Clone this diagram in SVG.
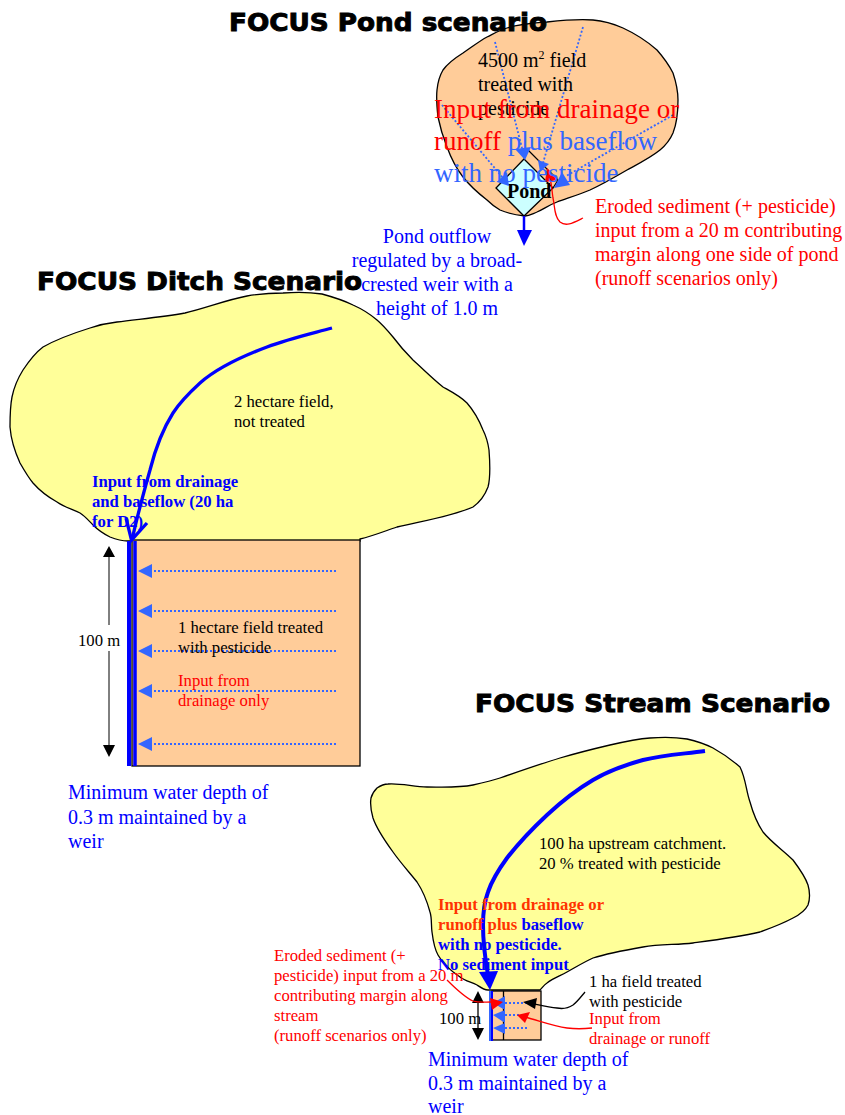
<svg xmlns="http://www.w3.org/2000/svg" width="845" height="1115" viewBox="0 0 845 1115">
<style>
text{font-family:"Liberation Serif","Times New Roman",serif}
.t{font-family:"DejaVu Sans",Arial,sans-serif;font-weight:bold;font-size:24px;fill:#000;stroke:#000;stroke-width:.9}
.o{stroke:#000;stroke-width:1.3}
.d{fill:none;stroke:#3366ff;stroke-width:1.8;stroke-dasharray:2 2}
.b{fill:none;stroke:#0000ff}
.r{fill:none;stroke:#ff0000;stroke-width:1.3}
.k{fill:none;stroke:#000;stroke-width:1.3}
.hb{fill:#3366ff}
.hr{fill:#ff0000}
.hk{fill:#000}
.s{font-size:16.7px}
.m{font-size:20px}
.l{font-size:27px}
</style>

<g id="pond-field">
<path class="o" fill="#ffcc99" d="M437 90C438 80 440 75 443 70C448 63 455 58 463 53C472 47 478 42 487 37C495 33 500 30 507 28C520 24 535 23 547 22C565 20 580 19 593 20C605 21 614 24 623 28C636 34 648 42 657 50C664 58 669 65 673 73C676 82 678 90 678 100C678 112 677 123 673 133C670 140 666 145 660 150C650 158 638 164 627 170C615 177 603 184 590 190C578 195 568 198 557 202C549 205 544 209 537 212C532 214 529 216 525 216C516 215 507 213 500 210C495 207 491 204 487 200C478 193 470 186 463 177C456 168 451 158 447 147C443 137 440 127 438 117C437 108 436 99 437 90Z"/>
</g>
<g id="pond">
<path class="o" fill="#ccffff" d="M524 159L553 188L524 216L496 188Z"/>
<path fill="none" stroke="#000" stroke-width="1.2" d="M528 150L558 180L553 188"/>
<text x="507" y="198" font-size="20" font-weight="bold">Pond</text>
</g>
<g id="ditch-catchment">
<path class="o" fill="#ffff99" d="M128 541C121 541 115 539 110 537C104 534 98 530 93 525C89 521 85 516 80 513C72 509 64 507 57 502C48 497 40 491 33 483C28 477 24 470 20 463C15 452 11 440 10 427C10 417 10 407 12 397C14 387 18 378 23 370C29 361 35 353 43 347C57 339 74 333 90 328C99 325 108 323 117 322C140 319 163 317 185 313C206 308 226 300 247 296C259 294 271 293 283 293C296 292 309 292 322 294C333 297 343 300 353 305C362 309 370 314 377 320C383 325 388 331 393 337C399 345 406 353 413 360C423 369 433 379 443 387C452 392 460 396 467 403C474 411 479 420 483 430C486 436 488 443 489 450C490 463 491 476 488 487C485 495 480 502 473 507C450 517 422 521 397 527C385 531 373 536 360 539L360 541Z"/>
</g>
<g id="ditch-field">
<rect class="o" x="132" y="540" width="228" height="226" fill="#ffcc99"/>
</g>
<g id="stream-catchment">
<path class="o" fill="#ffff99" d="M488 990C484 990 480 987 477 985C471 982 465 981 460 977C451 971 443 964 438 955C434 948 433 940 432 932C431 925 432 918 430 912C427 901 423 891 417 882C409 872 400 862 393 852C385 841 377 830 373 818C371 811 370 804 371 798C372 794 374 791 377 788C380 786 384 784 388 784C401 783 414 787 427 787C442 787 458 788 473 785C482 783 491 781 500 778C520 771 540 764 560 758C577 753 593 749 610 745C623 742 637 739 650 738C662 737 675 737 687 739C696 741 705 744 713 748C722 753 732 760 740 767C746 779 746 791 750 802C753 813 757 823 763 832C772 843 783 850 793 860C799 868 805 876 808 885C810 892 810 899 808 905C805 911 799 915 793 918C782 924 771 928 760 932C738 937 715 940 693 943C676 945 660 944 643 947C626 950 609 953 593 958C584 962 576 967 567 972C560 976 553 978 547 983C544 985 542 988 540 990Z"/>
</g>
<g id="stream-field">
<rect class="o" x="492" y="991" width="49" height="49" fill="#ffcc99"/>
<path class="k" d="M503.500 991V1040"/>
</g>

<g id="connectors">
<g id="pond-conn">
<path class="d" d="M495 42L523 152"/>
<path class="d" d="M583 27L543 163"/>
<path class="d" d="M442 105L503 178"/>
<path class="d" d="M673 115L566 176"/>
<path class="hb" d="M515 149L531 147L525 160Z"/>
<path class="hb" d="M538 160L549 164L540 172Z"/>
<path class="hb" d="M509 186L497 182L507 172Z"/>
<path class="hb" d="M554 188L570 185L562 172Z"/>
<path d="M524 216V232" stroke="#0000ff" stroke-width="2.500" fill="none"/>
<path fill="#0000ff" d="M517 230H532L524 246Z"/>
<path class="r" d="M583 218C573 223 566 227 560 222C554 216 555 207 553 198C552 192 552 186 550 178"/>
<path class="hr" d="M547 168L558 180L545 182Z"/>
</g>
<g id="ditch-conn">
<path class="b" stroke-width="3.300" d="M332 328C310 334 288 339 267 347C243 356 218 367 200 383C188 394 180 402 173 413C161 432 155 450 150 470C143 495 137 517 132 540"/>
<path class="b" stroke-width="3.300" d="M126 518L131.500 540L147 523"/>
<path class="b" stroke-width="4" d="M129 541V766"/>
<path class="b" stroke-width="3.500" d="M135 541V766"/>
<path stroke="#000" stroke-width="1" fill="none" d="M109 555V625M109 651V748"/>
<path class="hk" d="M103 557L109 546L115 557ZM103 745L109 757L115 745Z"/>
<path class="d" d="M150 571H336M150 611H336M150 651H336M150 691H336M150 744H338"/>
<path class="hb" d="M138 571L152 564V578ZM138 611L152 604V618ZM138 651L152 644V658ZM138 691L152 684V698ZM138 744L152 737V751Z"/>
</g>
<g id="stream-conn">
<path class="b" stroke-width="4" d="M705 751C683 754 663 755 643 760C625 765 608 771 593 780C576 790 561 802 547 815C532 829 518 844 507 858C499 869 492 880 488 892C484 903 483 914 483 925C483 942 485 958 488 975"/>
<path fill="#0000ff" d="M479 972L498 971L490 990Z"/>
<path stroke="#3366ff" stroke-width="2" fill="none" d="M490 991V1041"/>
<path stroke="#0000ff" stroke-width="2" fill="none" d="M492 991V1041"/>
<path class="k" d="M478 1000V1032"/>
<path class="hk" d="M472 1003L478 991L484 1003ZM472 1028L478 1040L484 1028Z"/>
<path class="d" d="M505 1003H527M505 1015H525M505 1028H529"/>
<path class="hb" d="M493 1003L505 996V1010ZM493 1015L505 1010V1023ZM493 1028L505 1023V1034Z"/>
<path class="k" d="M585 992C580 998 577 1002 573 1005C567 1009 562 1009 557 1008C548 1007 540 1005 530 1003"/>
<path class="hk" d="M523 1002L537 998L535 1009Z"/>
<path class="r" d="M592 1028C583 1029 575 1029 567 1028C553 1026 540 1021 525 1017"/>
<path class="hr" d="M517 1015L530 1012L525 1023Z"/>
<path class="r" d="M447 980C455 988 464 997 473 1001C479 1003 485 1002 491 1002"/>
<path class="hr" d="M503 1002L490 998L492 1010Z"/>
</g>
</g>

<g id="labels">
<text class="t" x="229" y="31" textLength="318" lengthAdjust="spacingAndGlyphs">FOCUS Pond scenario</text>
<text class="m" x="478" y="67">4500 m<tspan font-size="12" dy="-8">2</tspan><tspan dy="8"> field</tspan></text>
<text class="m" x="478" y="91">treated with</text>
<text class="m" x="478" y="115">pesticide</text>
<text class="l" fill="#ff0000" x="434" y="118">Input from drainage or</text>
<text class="l" x="434" y="150"><tspan fill="#ff0000">runoff </tspan><tspan fill="#3366ff">plus baseflow</tspan></text>
<text class="l" fill="#3366ff" x="434" y="182">with no pesticide</text>
<g class="m" fill="#0000ff" text-anchor="middle"><text x="437" y="243">Pond outflow</text><text x="437" y="267">regulated by a broad-</text><text x="437" y="291">crested weir with a</text><text x="437" y="315">height of 1.0 m</text></g>
<g class="m" fill="#ff0000"><text x="595" y="213">Eroded sediment (+ pesticide)</text><text x="595" y="237">input from a 20 m contributing</text><text x="595" y="261">margin along one side of pond</text><text x="595" y="285">(runoff scenarios only)</text></g>
<text class="t" x="37" y="290" textLength="325" lengthAdjust="spacingAndGlyphs">FOCUS Ditch Scenario</text>
<g class="s"><text x="234" y="407">2 hectare field,</text><text x="234" y="427">not treated</text></g>
<g class="s" font-weight="bold" fill="#0000ff"><text x="92" y="487">Input from drainage</text><text x="92" y="507">and baseflow (20 ha</text><text x="92" y="527">for D2)</text></g>
<text class="s" x="78" y="646">100 m</text>
<g class="s"><text x="178" y="633">1 hectare field treated</text><text x="178" y="653">with pesticide</text></g>
<g class="s" fill="#ff0000"><text x="178" y="686">Input from</text><text x="178" y="706">drainage only</text></g>
<g class="m" fill="#0000ff"><text x="68" y="799">Minimum water depth of</text><text x="68" y="824">0.3 m maintained by a</text><text x="68" y="848">weir</text></g>
<text class="t" x="475" y="712" textLength="355" lengthAdjust="spacingAndGlyphs">FOCUS Stream Scenario</text>
<g class="s"><text x="539" y="849">100 ha upstream catchment.</text><text x="539" y="869">20 % treated with pesticide</text></g>
<g class="s" font-weight="bold"><text x="438" y="910" fill="#ff3300">Input from drainage or</text><text x="438" y="930"><tspan fill="#ff3300">runoff plus </tspan><tspan fill="#0000ff">baseflow</tspan></text><text x="438" y="950" fill="#0000ff">with no pesticide.</text><text x="438" y="970" fill="#0000ff">No sediment input</text></g>
<g class="s" fill="#ff0000"><text x="274" y="961">Eroded sediment (+</text><text x="274" y="981">pesticide) input from a 20 m</text><text x="274" y="1001">contributing margin along</text><text x="274" y="1021">stream</text><text x="274" y="1041">(runoff scenarios only)</text></g>
<g class="s"><text x="589" y="987">1 ha field treated</text><text x="589" y="1007">with pesticide</text></g>
<text class="s" x="439" y="1024">100 m</text>
<g class="s" fill="#ff0000"><text x="589" y="1024">Input from</text><text x="589" y="1044">drainage or runoff</text></g>
<g class="m" fill="#0000ff"><text x="428" y="1066">Minimum water depth of</text><text x="428" y="1090">0.3 m maintained by a</text><text x="428" y="1113">weir</text></g>
</g>
</svg>
